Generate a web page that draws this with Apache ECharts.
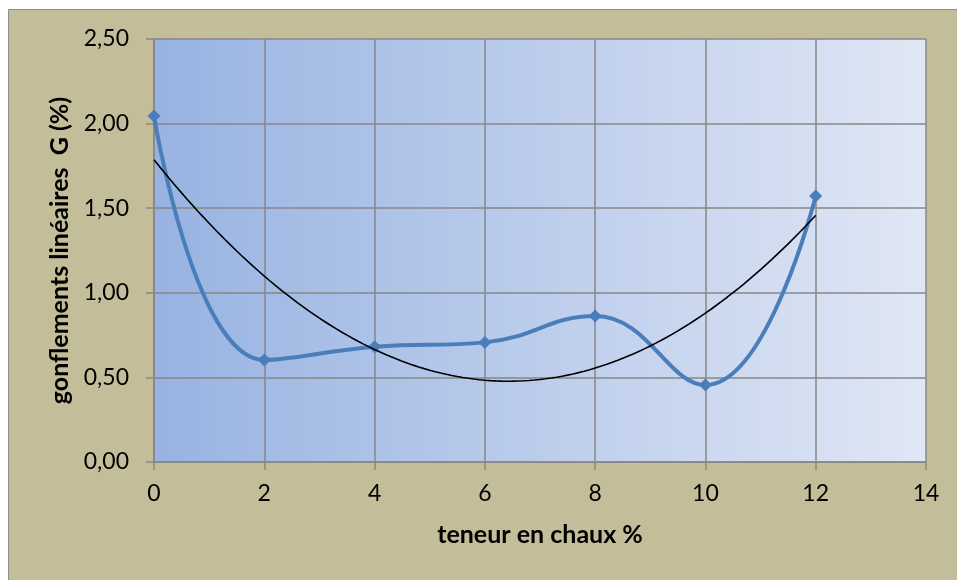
<!DOCTYPE html>
<html>
<head>
<meta charset="utf-8">
<script src="https://cdn.jsdelivr.net/npm/echarts@6/dist/echarts.min.js"></script>
<style>
html,body{margin:0;padding:0;background:#fff;}
#c{width:957px;height:580px;}
</style>
</head>
<body>
<div id="c"></div>
<script>
// Data
const chauxPct = [0, 2, 4, 6, 8, 10, 12];
const gonflements = [2.045, 0.603, 0.681, 0.707, 0.863, 0.455, 1.572];
const xTicks = [0, 2, 4, 6, 8, 10, 12, 14];
const yTicks = [0, 0.5, 1.0, 1.5, 2.0, 2.5];

// Polynomial (order 2) least-squares trendline computed from the data
function polyFit2(xs, ys) {
  let n = xs.length, s = [0,0,0,0,0], t = [0,0,0];
  for (let i = 0; i < n; i++) {
    let p = 1;
    for (let k = 0; k < 5; k++) { s[k] += p; if (k < 3) t[k] += p * ys[i]; p *= xs[i]; }
  }
  const M = [[s[0],s[1],s[2],t[0]],[s[1],s[2],s[3],t[1]],[s[2],s[3],s[4],t[2]]];
  for (let i = 0; i < 3; i++) {
    for (let j = i + 1; j < 3; j++) {
      const f = M[j][i] / M[i][i];
      for (let k = i; k < 4; k++) M[j][k] -= f * M[i][k];
    }
  }
  const c = [0,0,0];
  for (let i = 2; i >= 0; i--) {
    let v = M[i][3];
    for (let k = i + 1; k < 3; k++) v -= M[i][k] * c[k];
    c[i] = v / M[i][i];
  }
  return c;
}
const coef = polyFit2(chauxPct, gonflements);
const trend = [];
const x0 = chauxPct[0], x1 = chauxPct[chauxPct.length - 1];
for (let i = 0; i <= 120; i++) {
  const x = x0 + (x1 - x0) * i / 120;
  trend.push([x, coef[0] + coef[1] * x + coef[2] * x * x]);
}

const chart = echarts.init(document.getElementById('c'), null, {renderer: 'canvas'});
const FONT = 'Lato, "Open Sans", sans-serif';
const gridColor = '#878787';
chart.setOption({
  animation: false,
  backgroundColor: '#ffffff',
  graphic: [{
    type: 'rect', z: -10, silent: true,
    shape: {x: 8.5, y: 9.5, width: 960, height: 580},
    style: {fill: '#c4bd9a', stroke: '#8c8c8c', lineWidth: 1}
  }],
  grid: {
    left: 154, right: 31, top: 39, bottom: 118,
    show: true, borderWidth: 0,
    backgroundColor: new echarts.graphic.LinearGradient(0, 0, 1, 0, [
      {offset: 0, color: '#98b3e2'},
      {offset: 1, color: '#e0e7f5'}
    ])
  },
  xAxis: {
    type: 'value', min: 0, max: 14, interval: 2,
    name: 'teneur en chaux %', nameLocation: 'middle', nameGap: 60,
    nameTextStyle: {fontFamily: FONT, fontWeight: 'bold', fontSize: 25, color: '#000'},
    axisLine: {show: true, lineStyle: {color: gridColor, width: 1.5}},
    axisTick: {show: true, length: 8, inside: false, lineStyle: {color: gridColor, width: 1.5}},
    splitLine: {show: true, lineStyle: {color: gridColor, width: 1.5}},
    axisLabel: {fontFamily: FONT, fontSize: 23, color: '#000', margin: 20,
      formatter: v => xTicks.indexOf(v) >= 0 ? String(v) : ''}
  },
  yAxis: {
    type: 'value', min: 0, max: 2.5, interval: 0.5,
    name: 'gonflements linéaires  G (%)', nameLocation: 'middle', nameGap: 80,
    nameTextStyle: {fontFamily: FONT, fontWeight: 'bold', fontSize: 25, color: '#000'},
    axisLine: {show: true, lineStyle: {color: gridColor, width: 1.5}},
    axisTick: {show: true, length: 8, inside: false, lineStyle: {color: gridColor, width: 1.5}},
    splitLine: {show: true, lineStyle: {color: gridColor, width: 1.5}},
    axisLabel: {fontFamily: FONT, fontSize: 23, color: '#000', margin: 25,
      formatter: v => yTicks.some(t => Math.abs(t - v) < 1e-9) ? v.toFixed(2).replace('.', ',') : ''}
  },
  series: [
    {
      type: 'line', name: 'gonflements',
      data: chauxPct.map((x, i) => [x, gonflements[i]]),
      smooth: 0.45,
      symbol: 'diamond', symbolSize: 13,
      lineStyle: {color: '#4a7ebb', width: 4},
      itemStyle: {color: '#4a7ebb'},
      z: 3
    },
    {
      type: 'line', name: 'trend',
      data: trend, showSymbol: false, symbol: 'none',
      lineStyle: {color: '#000', width: 1.6},
      z: 4
    }
  ]
});
</script>
</body>
</html>
